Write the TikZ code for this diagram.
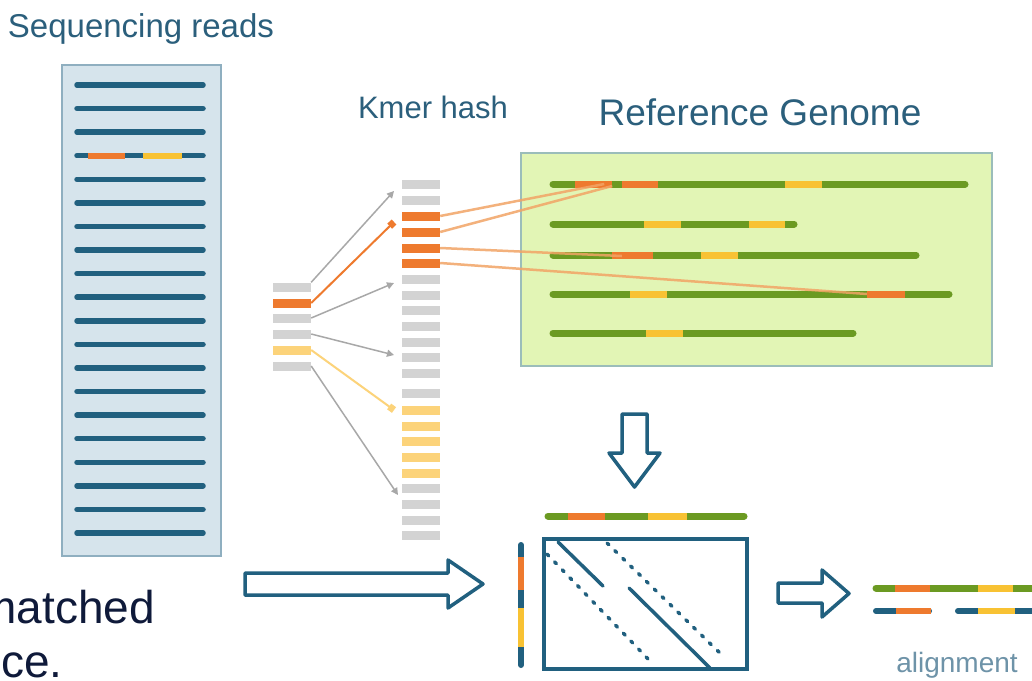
\documentclass[tikz,border=0pt]{standalone}
\usepackage{fontspec}
\setmainfont{Liberation Sans}
\usetikzlibrary{arrows.meta,calc}
\definecolor{cteal}{HTML}{21607F}
\definecolor{ctext}{HTML}{2B5F7C}
\definecolor{corange}{HTML}{EE7A2E}
\definecolor{cyellow}{HTML}{F8C233}
\definecolor{kyellow}{HTML}{FCD37A}
\definecolor{cgreen}{HTML}{6B9A22}
\definecolor{cgray}{HTML}{D3D3D3}
\definecolor{carrow}{HTML}{A8A8A8}
\definecolor{cpanel}{HTML}{D6E4EC}
\definecolor{cpanelb}{HTML}{8FAFC0}
\definecolor{cgenome}{HTML}{E2F5B5}
\definecolor{cgenomeb}{HTML}{9BBDBA}
\definecolor{cnavy}{HTML}{0F1A3A}
\definecolor{calign}{HTML}{6E93A8}
\definecolor{cline}{HTML}{F2A466}
\begin{document}
\begin{tikzpicture}[x=1pt,y=-1pt,
  bar/.style={rectangle,inner sep=0pt,minimum width=38pt,minimum height=9pt,draw=none},
  seg/.style={rectangle,inner sep=0pt,minimum height=7pt,draw=none},
  vseg/.style={rectangle,inner sep=0pt,minimum width=6pt,draw=none},
  readline/.style={cteal,line width=5.5pt,line cap=round},
  gline/.style={cgreen,line width=7pt,line cap=round},
  tline/.style={cteal,line width=6pt,line cap=round},
  garrow/.style={carrow,line width=1.5pt,-{Triangle[length=7pt,width=7pt]}},
  oarrow/.style={corange,line width=2pt,-{Square[length=6pt,width=7pt]}},
  yarrow/.style={kyellow,line width=2pt,-{Square[length=6pt,width=7pt]}},
  oline/.style={cline,line width=2.5pt,opacity=0.85},
  blockarrow/.style={cteal,line width=3.5pt,line join=round,fill=white},
  matline/.style={cteal,line width=3.5pt,line cap=round},
  label/.style={inner sep=0pt,text=ctext}
]
\useasboundingbox (0,0) rectangle (1032,680);
\clip (0,0) rectangle (1032,680);
\fill[white] (0,0) rectangle (1032,680);

% ---- Titles
\node[label,anchor=base,font=\fontsize{33}{38}\selectfont] (tseq) at (141,37) {Sequencing reads};
\node[label,anchor=base,font=\fontsize{31}{36}\selectfont] (tkmer) at (433,118) {Kmer hash};
\node[label,anchor=base,font=\fontsize{37}{42}\selectfont] (tref) at (760,125) {Reference Genome};
\node[inner sep=0pt,anchor=base,text=calign,font=\fontsize{28}{32}\selectfont] (talign) at (957,672) {alignment};

% ---- Sequencing reads panel
\node[rectangle,draw=cpanelb,fill=cpanel,line width=1.5pt,minimum width=159pt,minimum height=491pt,inner sep=0pt] (reads) at (141.5,310.5) {};
\foreach \i in {0,...,19}{
  \draw[readline] (77,85+\i*23.58) -- (203,85+\i*23.58);
}
\node[seg,fill=corange,minimum width=37pt,minimum height=6pt] (ro) at (106,155.7) {};
\node[seg,fill=cyellow,minimum width=39pt,minimum height=6pt] (ry) at (162.5,155.7) {};

% ---- Query kmers
\foreach \y/\c [count=\i] in {287/cgray,303/corange,318/cgray,334/cgray,350/kyellow,366/cgray}{
  \node[bar,fill=\c] (q\i) at (292,\y) {};
}

% ---- Hash table
\foreach \y/\c [count=\i] in {184/cgray,200/cgray,216/corange,232/corange,248/corange,263/corange,
  279/cgray,295/cgray,310/cgray,326/cgray,342/cgray,357/cgray,373/cgray,393/cgray,
  410/kyellow,426/kyellow,441/kyellow,457/kyellow,473/kyellow,
  488/cgray,504/cgray,520/cgray,535/cgray}{
  \node[bar,fill=\c] (h\i) at (421,\y) {};
}

% ---- arrow targets
\coordinate (t1) at (394,191);
\coordinate (t2) at (394,222);
\coordinate (t3) at (394,283);
\coordinate (t4) at (394,355);
\coordinate (t5) at (394,410);
\coordinate (t6) at (398,495);
\draw[garrow] (q1.north east) -- (t1);
\draw[oarrow] (q2.east) -- (t2);
\draw[garrow] (q3.east) -- (t3);
\draw[garrow] (q4.east) -- (t4);
\draw[yarrow] (q5.east) -- (t5);
\draw[garrow] (q6.east) -- (t6);

% ---- Reference genome
\node[rectangle,draw=cgenomeb,fill=cgenome,line width=1.5pt,minimum width=471pt,minimum height=213pt,inner sep=0pt] (genome) at (756.5,259.5) {};
\draw[gline] (553,184) -- (965,184);
\draw[gline] (553,224) -- (794,224);
\draw[gline] (553,255) -- (916,255);
\draw[gline] (553,294) -- (949,294);
\draw[gline] (553,333) -- (853,333);
\node[seg,fill=corange,minimum width=37pt] (g1a) at (593.5,184) {};
\node[seg,fill=corange,minimum width=36pt] (g1b) at (640,184) {};
\node[seg,fill=cyellow,minimum width=37pt] (g1c) at (803.5,184) {};
\node[seg,fill=cyellow,minimum width=37pt] (g2a) at (662.5,224) {};
\node[seg,fill=cyellow,minimum width=36pt] (g2b) at (767,224) {};
\node[seg,fill=corange,minimum width=41pt] (g3a) at (632.5,255) {};
\node[seg,fill=cyellow,minimum width=37pt] (g3b) at (719.5,255) {};
\node[seg,fill=cyellow,minimum width=37pt] (g4a) at (648.5,294) {};
\node[seg,fill=corange,minimum width=38pt] (g4b) at (886,294) {};
\node[seg,fill=cyellow,minimum width=37pt] (g5a) at (664.5,333) {};

\draw[oline] (h3.east) -- ([xshift=-8pt]g1a.east);
\draw[oline] (h4.east) -- ([yshift=-2pt]g1a.east);
\draw[oline] (h5.east) -- ([xshift=10pt,yshift=-1pt]g3a.west);
\draw[oline] (h6.east) -- (g4b.west);

% ---- down block arrow
\draw[blockarrow] (622,414) -- (647,414) -- (647,453) -- (660,453) -- (634.5,487) -- (609,453) -- (622,453) -- cycle;

% ---- alignment matrix
\draw[gline] (548,516) -- (744,516);
\node[seg,fill=corange,minimum width=37pt] (m1) at (586.5,516) {};
\node[seg,fill=cyellow,minimum width=39pt] (m2) at (667.5,516) {};

\draw[tline] (521,545) -- (521,665);
\node[vseg,fill=corange,minimum height=33pt] (v1) at (521,573.5) {};
\node[vseg,fill=cyellow,minimum height=39pt] (v2) at (521,627.5) {};

\node[rectangle,draw=cteal,line width=3.5pt,minimum width=203pt,minimum height=130pt,inner sep=0pt] (mat) at (645.5,604) {};
\draw[matline] (558,542) -- (603,586);
\draw[matline] (629,588) -- (710,668);
\draw[matline,dash pattern=on 2.5pt off 8.5pt] (607,543) -- (725,658);
\draw[matline,dash pattern=on 2.5pt off 8.5pt] (547,554) -- (652,663);

% ---- big right block arrow
\draw[blockarrow] (245,573) -- (448,573) -- (448,560) -- (483,584) -- (448,608) -- (448,595) -- (245,595) -- cycle;

% ---- small right block arrow
\draw[blockarrow] (778,583) -- (822,583) -- (822,570) -- (849,593.5) -- (822,617) -- (822,603) -- (778,603) -- cycle;

% ---- alignment result
\draw[gline] (876,588) -- (1045,588);
\node[seg,fill=corange,minimum width=35pt] (a1) at (912.5,588) {};
\node[seg,fill=cyellow,minimum width=35pt] (a2) at (995.5,588) {};
\draw[tline] (876,611) -- (929,611);
\draw[tline] (958,611) -- (1045,611);
\node[seg,fill=corange,minimum width=35pt,minimum height=6pt] (b1) at (913.5,611) {};
\node[seg,fill=cyellow,minimum width=37pt,minimum height=6pt] (b2) at (996.5,611) {};

% ---- cut-off body text (cut at the left edge, as in the reference)
\node[inner sep=0pt,anchor=base east,text=cnavy,font=\fontsize{46}{54}\selectfont] (tm) at (155,623) {matched};
\node[inner sep=0pt,anchor=base west,text=cnavy,font=\fontsize{46}{54}\selectfont] (tc) at (1,677) {ce.};
\end{tikzpicture}
\end{document}
